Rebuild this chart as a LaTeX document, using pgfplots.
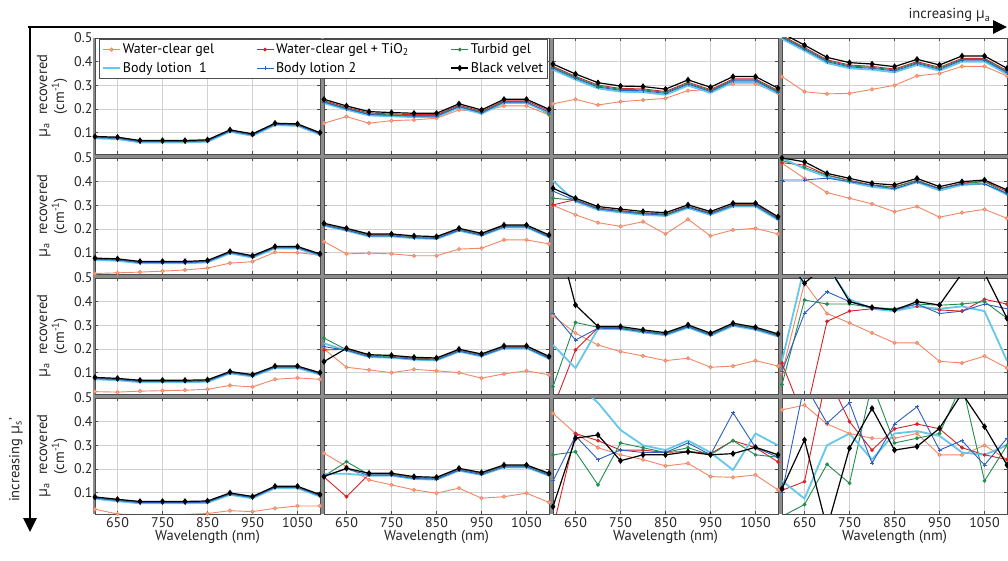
\documentclass[border=0pt]{standalone}
\usepackage{pgfplots}
\pgfplotsset{compat=1.18}
\usepackage{pgfplotstable}
\usetikzlibrary{arrows.meta}
\usepackage{fontspec}
\setmainfont{PT Sans}
\newfontfamily\grk{Open Sans}
\definecolor{cwc}{RGB}{242,135,100}
\definecolor{cti}{RGB}{215,35,40}
\definecolor{ctg}{RGB}{35,140,80}
\definecolor{cb1}{RGB}{100,200,235}
\definecolor{cb2}{RGB}{45,95,190}

% columns: x wc ti tg b1 b2 bv
\pgfplotstableread{
x wc ti tg b1 b2 bv
600 0.078 0.081 0.080 0.076 0.079 0.084
650 0.075 0.078 0.077 0.073 0.076 0.081
700 0.061 0.064 0.063 0.059 0.062 0.067
750 0.061 0.064 0.063 0.059 0.062 0.067
800 0.061 0.064 0.063 0.059 0.062 0.067
850 0.064 0.067 0.066 0.062 0.065 0.070
900 0.106 0.109 0.108 0.104 0.107 0.112
950 0.089 0.092 0.091 0.087 0.090 0.095
1000 0.134 0.137 0.136 0.132 0.135 0.140
1050 0.131 0.134 0.133 0.129 0.132 0.137
1100 0.094 0.097 0.096 0.092 0.095 0.100
}\tAa
\pgfplotstableread{
x wc ti tg b1 b2 bv
600 0.012 0.074 0.073 0.069 0.072 0.077
650 0.015 0.071 0.070 0.066 0.069 0.074
700 0.018 0.060 0.059 0.055 0.058 0.063
750 0.022 0.060 0.059 0.055 0.058 0.063
800 0.027 0.060 0.059 0.055 0.058 0.063
850 0.035 0.064 0.063 0.059 0.062 0.067
900 0.056 0.102 0.101 0.097 0.100 0.105
950 0.062 0.084 0.083 0.079 0.082 0.087
1000 0.102 0.123 0.122 0.118 0.121 0.126
1050 0.100 0.123 0.122 0.118 0.121 0.126
1100 0.090 0.092 0.091 0.087 0.090 0.095
}\tBa
\pgfplotstableread{
x wc ti tg b1 b2 bv
600 0.020 0.077 0.076 0.072 0.075 0.080
650 0.018 0.073 0.072 0.068 0.071 0.076
700 0.022 0.065 0.064 0.060 0.063 0.068
750 0.024 0.065 0.064 0.060 0.063 0.068
800 0.026 0.065 0.064 0.060 0.063 0.068
850 0.030 0.067 0.066 0.062 0.065 0.070
900 0.046 0.102 0.101 0.097 0.100 0.105
950 0.040 0.089 0.088 0.084 0.087 0.092
1000 0.072 0.125 0.124 0.120 0.123 0.128
1050 0.078 0.125 0.124 0.120 0.123 0.128
1100 0.072 0.097 0.096 0.092 0.095 0.100
}\tCa
\pgfplotstableread{
x wc ti tg b1 b2 bv
600 0.030 0.079 0.078 0.074 0.077 0.082
650 0.010 0.069 0.068 0.064 0.067 0.072
700 0.006 0.060 0.059 0.055 0.058 0.063
750 0.006 0.060 0.059 0.055 0.058 0.063
800 0.008 0.060 0.059 0.055 0.058 0.063
850 0.012 0.062 0.061 0.057 0.060 0.065
900 0.024 0.096 0.095 0.091 0.094 0.099
950 0.020 0.081 0.080 0.076 0.079 0.084
1000 0.034 0.124 0.123 0.119 0.122 0.127
1050 0.044 0.124 0.123 0.119 0.122 0.127
1100 0.044 0.089 0.088 0.084 0.087 0.092
}\tDa
\pgfplotstableread{
x wc ti tg b1 b2 bv
600 0.140 0.235 0.231 0.225 0.229 0.241
650 0.168 0.207 0.203 0.197 0.201 0.213
700 0.140 0.183 0.179 0.173 0.177 0.189
750 0.151 0.179 0.175 0.169 0.173 0.185
800 0.154 0.176 0.172 0.166 0.170 0.182
850 0.161 0.176 0.172 0.166 0.170 0.182
900 0.196 0.216 0.212 0.206 0.210 0.222
950 0.189 0.190 0.186 0.180 0.184 0.196
1000 0.213 0.235 0.231 0.225 0.229 0.241
1050 0.213 0.235 0.231 0.225 0.229 0.241
1100 0.175 0.193 0.178 0.183 0.187 0.199
}\tAb
\pgfplotstableread{
x wc ti tg b1 b2 bv
600 0.147 0.220 0.218 0.214 0.216 0.224
650 0.095 0.199 0.197 0.193 0.195 0.203
700 0.098 0.175 0.173 0.169 0.171 0.179
750 0.095 0.175 0.173 0.169 0.171 0.179
800 0.087 0.167 0.165 0.161 0.163 0.171
850 0.087 0.164 0.162 0.158 0.160 0.168
900 0.115 0.199 0.197 0.193 0.195 0.203
950 0.119 0.178 0.176 0.172 0.174 0.182
1000 0.154 0.213 0.211 0.207 0.209 0.217
1050 0.154 0.213 0.211 0.207 0.209 0.217
1100 0.137 0.171 0.169 0.165 0.167 0.175
}\tBb
\pgfplotstableread{
x wc ti tg b1 b2 bv
600 0.200 0.196 0.246 0.224 0.210 0.147
650 0.123 0.199 0.197 0.193 0.195 0.203
700 0.112 0.172 0.170 0.166 0.168 0.176
750 0.100 0.169 0.167 0.163 0.165 0.173
800 0.114 0.161 0.159 0.155 0.157 0.165
850 0.108 0.158 0.156 0.152 0.154 0.162
900 0.100 0.195 0.193 0.189 0.191 0.199
950 0.077 0.175 0.173 0.169 0.171 0.179
1000 0.095 0.209 0.207 0.203 0.205 0.213
1050 0.108 0.209 0.207 0.203 0.205 0.213
1100 0.091 0.165 0.163 0.159 0.161 0.169
}\tCb
\pgfplotstableread{
x wc ti tg b1 b2 bv
600 0.267 0.166 0.170 0.180 0.172 0.168
650 0.210 0.083 0.231 0.180 0.200 0.203
700 0.154 0.178 0.176 0.172 0.174 0.182
750 0.133 0.178 0.176 0.172 0.174 0.182
800 0.112 0.164 0.162 0.158 0.160 0.168
850 0.098 0.161 0.159 0.155 0.157 0.165
900 0.119 0.199 0.197 0.193 0.195 0.203
950 0.077 0.181 0.179 0.175 0.177 0.185
1000 0.083 0.213 0.211 0.207 0.209 0.217
1050 0.098 0.213 0.211 0.207 0.209 0.217
1100 0.059 0.178 0.176 0.172 0.174 0.182
}\tDb
\pgfplotstableread{
x wc ti tg b1 b2 bv
600 0.222 0.380 0.376 0.366 0.372 0.390
650 0.241 0.338 0.334 0.324 0.330 0.348
700 0.217 0.301 0.297 0.287 0.293 0.311
750 0.231 0.287 0.283 0.273 0.279 0.297
800 0.238 0.285 0.281 0.271 0.277 0.295
850 0.245 0.274 0.270 0.260 0.266 0.284
900 0.278 0.313 0.309 0.299 0.305 0.323
950 0.281 0.282 0.278 0.268 0.274 0.292
1000 0.306 0.327 0.323 0.313 0.319 0.337
1050 0.306 0.327 0.323 0.313 0.319 0.337
1100 0.267 0.278 0.274 0.264 0.270 0.288
}\tAc
\pgfplotstableread{
x wc ti tg b1 b2 bv
600 0.300 0.302 0.330 0.404 0.360 0.372
650 0.260 0.324 0.322 0.316 0.320 0.330
700 0.227 0.289 0.287 0.281 0.285 0.295
750 0.211 0.278 0.276 0.270 0.274 0.284
800 0.231 0.268 0.266 0.260 0.264 0.274
850 0.179 0.263 0.261 0.255 0.259 0.269
900 0.241 0.296 0.294 0.288 0.292 0.302
950 0.171 0.268 0.266 0.260 0.264 0.274
1000 0.196 0.303 0.301 0.295 0.299 0.309
1050 0.203 0.303 0.301 0.295 0.299 0.309
1100 0.179 0.246 0.244 0.238 0.242 0.252
}\tBc
\pgfplotstableread{
x wc ti tg b1 b2 bv
600 0.340 -0.050 0.041 0.217 0.351 0.750
650 0.267 0.196 0.312 0.119 0.238 0.386
700 0.217 0.290 0.292 0.285 0.288 0.295
750 0.189 0.288 0.290 0.284 0.286 0.295
800 0.171 0.275 0.277 0.270 0.273 0.281
850 0.151 0.263 0.265 0.258 0.261 0.269
900 0.161 0.296 0.298 0.291 0.294 0.302
950 0.123 0.261 0.263 0.256 0.259 0.267
1000 0.128 0.303 0.305 0.298 0.301 0.309
1050 0.151 0.286 0.288 0.281 0.284 0.292
1100 0.128 0.258 0.260 0.253 0.256 0.264
}\tCc
\pgfplotstableread{
x wc ti tg b1 b2 bv
600 0.435 -0.050 0.260 0.620 0.150 0.041
650 0.350 0.350 0.273 0.560 0.340 0.330
700 0.290 0.320 0.133 0.480 0.240 0.344
750 0.260 0.280 0.310 0.365 0.280 0.235
800 0.240 0.280 0.290 0.300 0.270 0.260
850 0.213 0.270 0.270 0.280 0.270 0.260
900 0.224 0.275 0.290 0.320 0.310 0.273
950 0.168 0.265 0.260 0.270 0.260 0.260
1000 0.165 0.320 0.320 0.196 0.438 0.265
1050 0.175 0.290 0.260 0.350 0.290 0.292
1100 0.112 0.230 0.250 0.300 0.250 0.260
}\tDc
\pgfplotstableread{
x wc ti tg b1 b2 bv
600 0.337 0.510 0.506 0.496 0.502 0.520
650 0.273 0.460 0.456 0.446 0.452 0.470
700 0.264 0.408 0.404 0.394 0.400 0.418
750 0.266 0.386 0.382 0.372 0.378 0.396
800 0.283 0.380 0.376 0.366 0.372 0.390
850 0.300 0.369 0.365 0.355 0.361 0.379
900 0.340 0.400 0.396 0.386 0.392 0.410
950 0.350 0.376 0.372 0.362 0.368 0.386
1000 0.380 0.414 0.410 0.400 0.406 0.424
1050 0.380 0.414 0.410 0.400 0.406 0.424
1100 0.340 0.362 0.358 0.348 0.354 0.372
}\tAd
\pgfplotstableread{
x wc ti tg b1 b2 bv
600 0.478 0.480 0.490 0.500 0.407 0.500
650 0.414 0.470 0.460 0.455 0.407 0.484
700 0.354 0.428 0.426 0.420 0.415 0.435
750 0.330 0.406 0.404 0.398 0.400 0.414
800 0.306 0.386 0.384 0.378 0.385 0.393
850 0.273 0.378 0.376 0.368 0.370 0.386
900 0.295 0.406 0.404 0.398 0.400 0.414
950 0.250 0.371 0.369 0.363 0.370 0.379
1000 0.269 0.394 0.392 0.386 0.390 0.400
1050 0.283 0.402 0.400 0.392 0.390 0.407
1100 0.245 0.358 0.350 0.345 0.350 0.365
}\tBd
\pgfplotstableread{
x wc ti tg b1 b2 bv
600 0.100 0.140 0.050 0.150 0.105 0.600
650 0.480 -0.100 0.407 0.550 0.351 0.478
700 0.350 0.317 0.390 0.550 0.442 0.560
750 0.310 0.360 0.390 0.410 0.400 0.400
800 0.268 0.370 0.375 0.370 0.372 0.376
850 0.226 0.365 0.370 0.360 0.365 0.365
900 0.226 0.380 0.390 0.380 0.390 0.400
950 0.148 0.365 0.385 0.370 0.350 0.386
1000 0.141 0.360 0.390 0.380 0.360 0.520
1050 0.170 0.410 0.400 0.360 0.390 0.520
1100 0.120 0.390 0.330 0.150 0.370 0.330
}\tCd
\pgfplotstableread{
x wc ti tg b1 b2 bv
600 0.450 0.110 0.000 0.150 0.100 0.117
650 0.470 0.147 0.050 0.075 0.560 0.323
700 0.390 0.600 0.220 0.300 0.393 -0.050
750 0.350 0.400 0.140 0.350 0.480 0.288
800 0.330 0.280 0.560 0.240 0.224 0.456
850 0.330 0.370 0.310 0.350 0.390 0.280
900 0.350 0.390 0.330 0.360 0.463 0.295
950 0.260 0.370 0.350 0.340 0.280 0.372
1000 0.260 0.290 0.560 0.270 0.320 0.520
1050 0.300 0.260 0.150 0.260 0.217 0.379
1100 0.240 0.240 0.300 0.300 0.330 0.217
}\tDd

\pgfplotsset{
  wcg/.style={color=cwc, line width=0.9pt, mark=*, mark size=1.6pt, mark options={fill=cwc!55, draw=cwc}},
  tio/.style={color=cti, line width=0.9pt, mark=*, mark size=1.4pt},
  turb/.style={color=ctg, line width=0.9pt, mark=*, mark size=1.4pt},
  bla/.style={color=cb1, line width=1.8pt, mark=none},
  blb/.style={color=cb2, line width=0.9pt, mark=+, mark size=2pt},
  bvv/.style={color=black, line width=1.2pt, mark=diamond*, mark size=2.3pt},
  panel/.style={
    anchor=north west, scale only axis, width=225pt, height=116pt,
    xmin=600, xmax=1100, ymin=0.01, ymax=0.5,
    xtick={650,750,850,950,1050}, ytick={0.1,0.2,0.3,0.4,0.5},
    xticklabels={}, yticklabels={},
    grid=major, major grid style={black!18, line width=0.6pt},
    axis line style={draw=black!70, line width=0.9pt},
    tick style={black!70, line width=0.5pt}, major tick length=3pt,
    tick align=inside,
    axis background/.style={fill=white},
    tick label style={font=\fontsize{14}{14}\selectfont, text=black!85},
    /pgf/number format/assume math mode=true,
    label style={font=\fontsize{14.5}{15}\selectfont, text=black!85},
  },
  ylab/.style={yticklabels={0.1,0.2,0.3,0.4,0.5},
    ylabel={{\grk μ}\textsubscript{a}\ \ recovered\\(cm\textsuperscript{-1})},
    ylabel style={align=center}, yticklabel style={xshift=1pt}},
  xlab/.style={xticklabels={650,750,850,950,1050}, xlabel={Wavelength (nm)},
    xlabel style={yshift=4pt}},
}
\newcommand{\six}[1]{%
  \addplot[wcg] table[x=x,y=wc]{#1};
  \addplot[tio] table[x=x,y=ti]{#1};
  \addplot[turb] table[x=x,y=tg]{#1};
  \addplot[bla] table[x=x,y=b1]{#1};
  \addplot[blb] table[x=x,y=b2]{#1};
  \addplot[bvv] table[x=x,y=bv]{#1};
}

\begin{document}
\begin{tikzpicture}[x=1pt,y=1pt]
\useasboundingbox (0,0) rectangle (1008,560);
\fill[black!45] (93,522) rectangle (1008,46);
% row 1
\begin{axis}[panel, ylab, at={(95pt,522pt)}] \six{\tAa} \end{axis}
\begin{axis}[panel, at={(553pt,522pt)}] \six{\tAc} \end{axis}
\begin{axis}[panel, at={(782pt,522pt)}] \six{\tAd} \end{axis}
\begin{axis}[panel, at={(324pt,522pt)},
  legend style={at={(rel axis cs:0.995,0.99)}, anchor=north east, legend columns=3,
    font=\fontsize{14}{15}\selectfont, draw=black!70, fill=white, inner sep=2.5pt,
    row sep=3pt, /tikz/every even column/.append style={column sep=40pt}},
  legend cell align=left]
  \six{\tAb}
  \legend{Water-clear gel, Water-clear gel + TiO\textsubscript{2}, Turbid gel, Body lotion\ \ 1, Body lotion 2, Black velvet}
\end{axis}
% row 2
\begin{axis}[panel, ylab, at={(95pt,402pt)}] \six{\tBa} \end{axis}
\begin{axis}[panel, at={(324pt,402pt)}] \six{\tBb} \end{axis}
\begin{axis}[panel, at={(553pt,402pt)}] \six{\tBc} \end{axis}
\begin{axis}[panel, at={(782pt,402pt)}] \six{\tBd} \end{axis}
% row 3
\begin{axis}[panel, ylab, at={(95pt,282pt)}] \six{\tCa} \end{axis}
\begin{axis}[panel, at={(324pt,282pt)}] \six{\tCb} \end{axis}
\begin{axis}[panel, at={(553pt,282pt)}] \six{\tCc} \end{axis}
\begin{axis}[panel, at={(782pt,282pt)}] \six{\tCd} \end{axis}
% row 4
\begin{axis}[panel, ylab, xlab, at={(95pt,162pt)}] \six{\tDa} \end{axis}
\begin{axis}[panel, xlab, at={(324pt,162pt)}] \six{\tDb} \end{axis}
\begin{axis}[panel, xlab, at={(553pt,162pt)}] \six{\tDc} \end{axis}
\begin{axis}[panel, xlab, at={(782pt,162pt)}] \six{\tDd} \end{axis}
% arrows
\draw[line width=2.6pt, -{Triangle[length=14pt,width=13pt]}] (28,533) -- (1007,533);
\draw[line width=2.6pt, -{Triangle[length=14pt,width=13pt]}] (30,534.3) -- (30,28);
\node[anchor=base east, font=\fontsize{14.5}{15}\selectfont, text=black!85] at (994,541) {increasing {\grk μ}\textsubscript{a}};
\node[rotate=90, font=\fontsize{14.5}{15}\selectfont, text=black!85] at (16,100) {increasing {\grk μ}\textsubscript{s}'};
\end{tikzpicture}
\end{document}
